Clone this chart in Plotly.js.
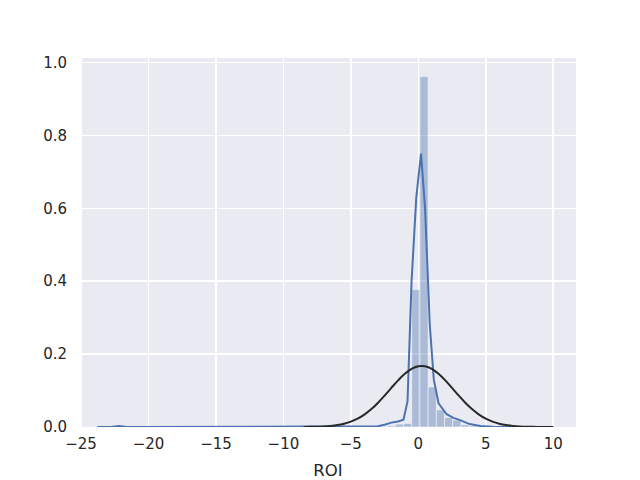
<!DOCTYPE html>
<html>
<head>
<meta charset="utf-8">
<script src="https://cdn.plot.ly/plotly-3.0.1.min.js"></script>
<style>html,body{margin:0;padding:0;background:#fff;}#chart{width:640px;height:480px;}</style>
</head>
<body>
<div id="chart"></div>
<script>
// Histogram bins (centers) and densities
var binWidth = 0.608;
var binCenters = [-2.012, -1.404, -0.796, -0.184, 0.424, 1.032, 1.640, 2.248, 2.856, 3.464, 4.072];
var binHeights = [0.004, 0.008, 0.010, 0.377, 0.962, 0.110, 0.047, 0.026, 0.019, 0.006, 0.003];

// KDE curve
var kdeX = [-23.8, -22.8, -22.2, -21.6, -20.5, -16.5, -15.8, -15.0, -14.2, -13.5, -9.0, -8.3, -7.0, -5.8, -4.5, -3.5, -3.0, -2.5, -2.0, -1.5, -1.1, -0.8, -0.5, -0.15, 0.2, 0.5, 0.85, 1.15, 1.5, 2.1, 2.6, 3.1, 3.8, 4.6, 5.5, 7.0, 8.5, 10.0];
var kdeY = [0, 0, 0.003, 0, 0, 0, 0.002, 0.002, 0.002, 0, 0, 0.001, 0.001, 0.001, 0, 0, 0.002, 0.006, 0.012, 0.015, 0.020, 0.070, 0.400, 0.630, 0.750, 0.600, 0.280, 0.130, 0.065, 0.035, 0.025, 0.019, 0.008, 0.003, 0.001, 0, 0, 0];

// Fitted normal curve
var fitX = [-8.5, -8, -7.5, -7, -6.5, -6, -5.5, -5, -4.5, -4, -3.5, -3, -2.5, -2, -1.5, -1, -0.5, 0, 0.25, 0.5, 1, 1.5, 2, 2.5, 3, 3.5, 4, 4.5, 5, 5.5, 6, 6.5, 7, 7.5, 8, 8.5, 9, 9.5, 10];
var fitY = [0.0001, 0.0004, 0.0008, 0.0016, 0.0030, 0.0053, 0.0091, 0.0147, 0.0229, 0.0340, 0.0485, 0.0660, 0.0860, 0.1072, 0.1279, 0.1460, 0.1595, 0.1667, 0.1676, 0.1667, 0.1595, 0.1460, 0.1279, 0.1072, 0.0860, 0.0660, 0.0485, 0.0340, 0.0229, 0.0147, 0.0091, 0.0053, 0.0030, 0.0016, 0.0008, 0.0004, 0.0002, 0.0001, 0.00003];

var xTicks = [-25, -20, -15, -10, -5, 0, 5, 10];
var yTicks = [0, 0.2, 0.4, 0.6, 0.8, 1.0];

var widths = binCenters.map(function(){ return binWidth; });
function fmtX(v){ return v < 0 ? '\u2212' + Math.abs(v) : String(v); }

var traces = [
  {
    type: 'bar', x: binCenters, y: binHeights, width: widths,
    marker: {color: 'rgba(76,114,176,0.4)', line: {color: 'rgba(255,255,255,0.5)', width: 1}},
    hoverinfo: 'skip', showlegend: false
  },
  {
    type: 'scatter', mode: 'lines', x: kdeX, y: kdeY,
    line: {color: '#4C72B0', width: 2}, hoverinfo: 'skip', showlegend: false
  },
  {
    type: 'scatter', mode: 'lines', x: fitX, y: fitY,
    line: {color: '#282828', width: 2, shape: 'spline'}, hoverinfo: 'skip', showlegend: false
  }
];

var layout = {
  width: 640, height: 480,
  margin: {l: 80, r: 64, t: 58, b: 53, pad: 0},
  paper_bgcolor: '#ffffff', plot_bgcolor: '#EAEAF2',
  font: {family: 'DejaVu Sans', color: '#262626', size: 15},
  bargap: 0,
  xaxis: {
    range: [-25.08, 11.69], tickvals: xTicks, ticktext: xTicks.map(fmtX),
    showgrid: true, gridcolor: '#ffffff', gridwidth: 1.5, zeroline: false,
    showline: false, ticks: '', ticklabelstandoff: 6,
    tickfont: {family: 'DejaVu Sans', size: 15, color: '#262626'},
    title: {text: 'ROI', font: {family: 'DejaVu Sans', size: 16.5, color: '#262626'}, standoff: 12},
    automargin: false
  },
  yaxis: {
    range: [0, 1.0126], tickvals: yTicks, ticktext: yTicks.map(function(v){ return v.toFixed(1); }),
    showgrid: true, gridcolor: '#ffffff', gridwidth: 1.5, zeroline: false,
    showline: false, ticks: '', ticklabelstandoff: 12,
    tickfont: {family: 'DejaVu Sans', size: 15, color: '#262626'},
    automargin: false
  }
};

Plotly.newPlot('chart', traces, layout, {staticPlot: true, displayModeBar: false});
</script>
</body>
</html>
